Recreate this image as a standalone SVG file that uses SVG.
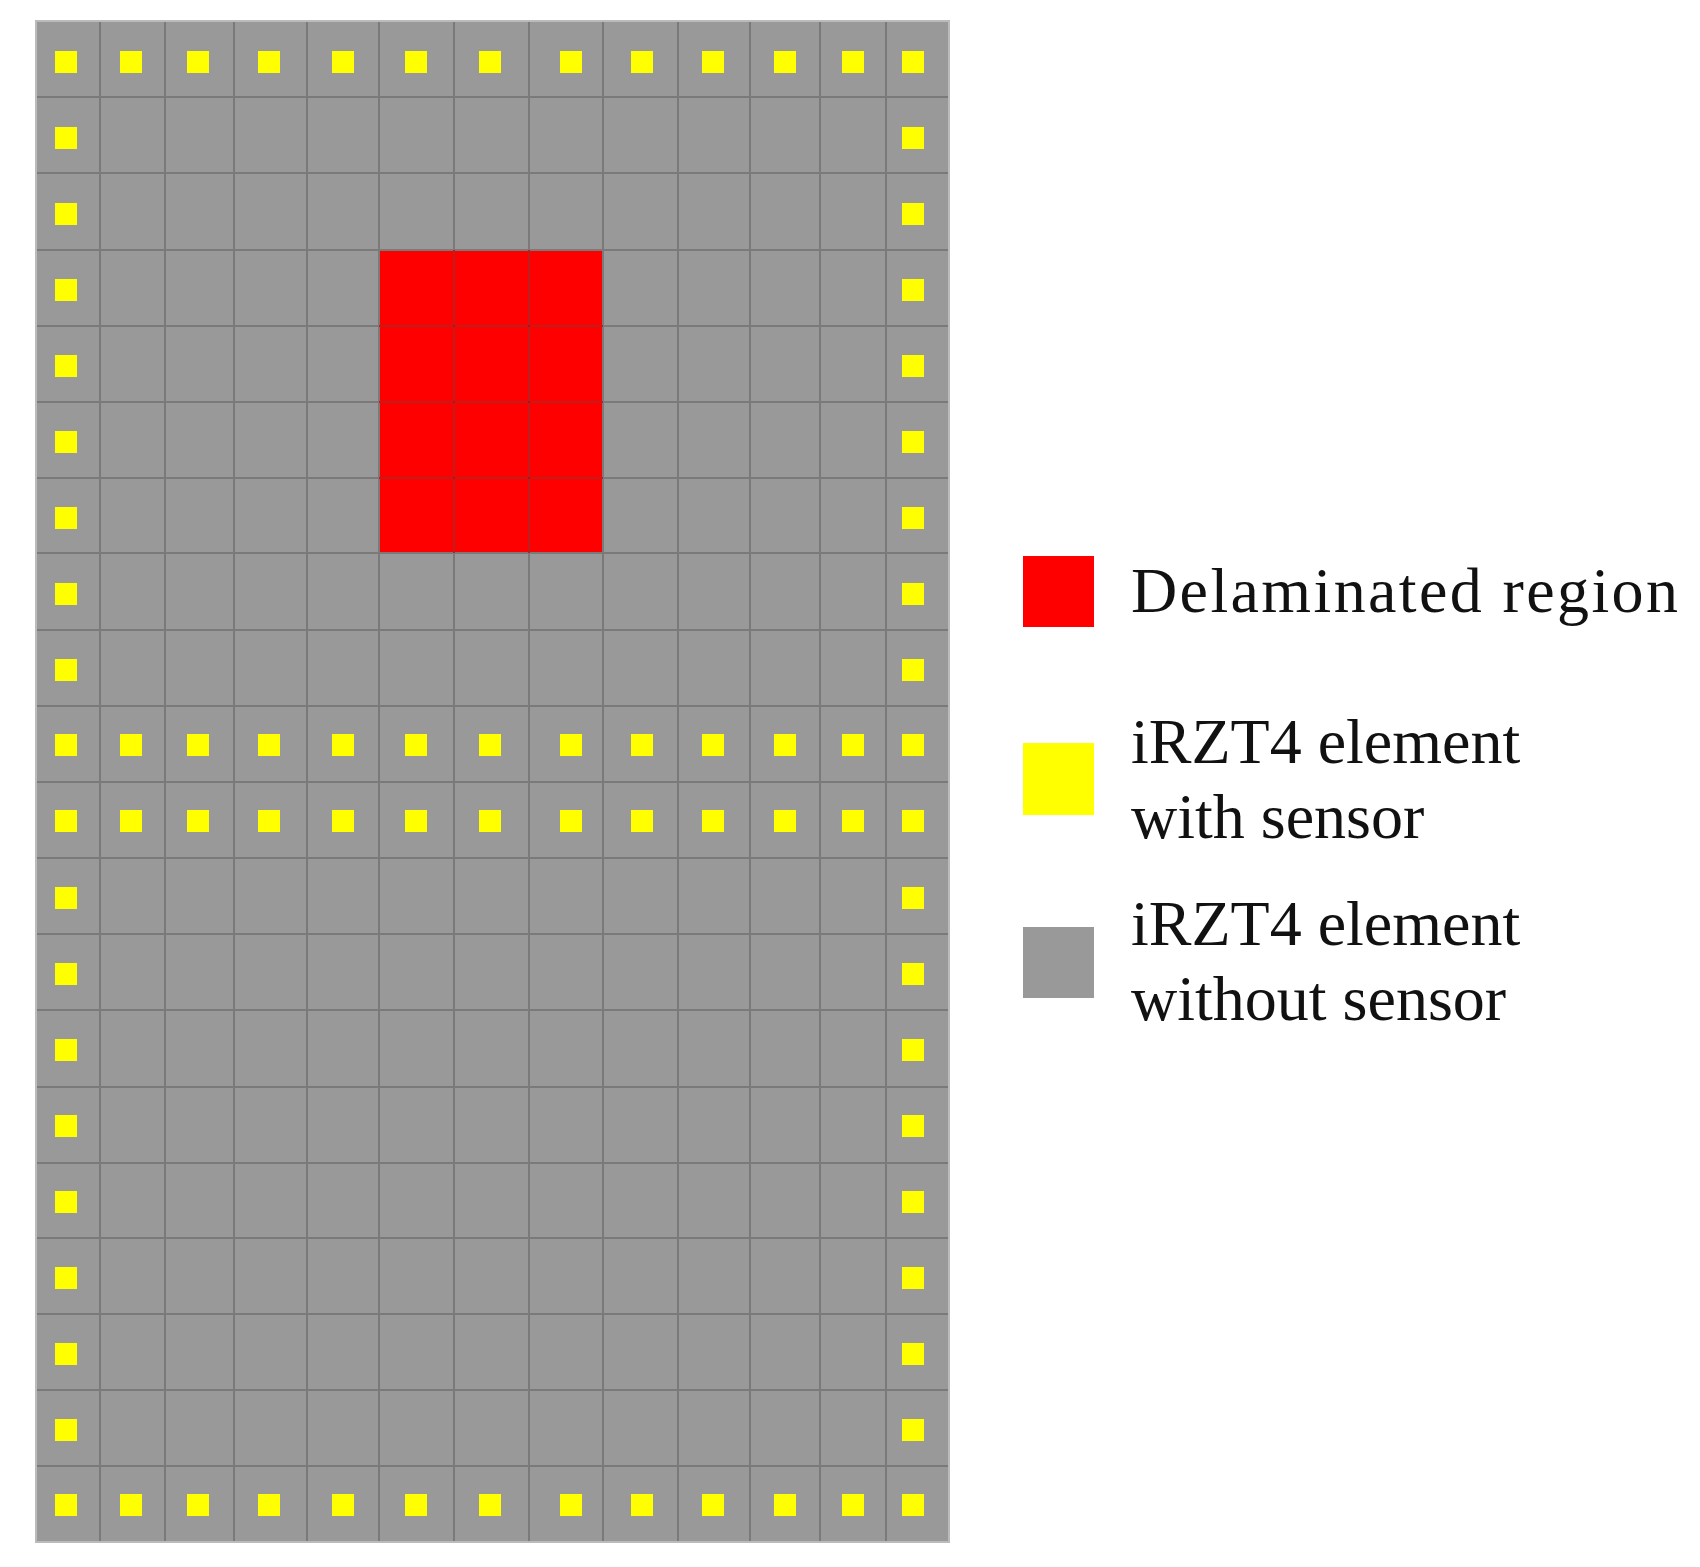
<svg xmlns="http://www.w3.org/2000/svg" width="1700" height="1567" viewBox="0 0 1700 1567">
<style>
.g{stroke:#7a7a7a;stroke-width:2;fill:none}
.y{fill:#ffff00}
.t{font-family:"Liberation Serif",serif;font-size:64px;fill:#111}
</style>
<defs><rect id="s" class="y" width="22" height="22"/></defs>
<rect x="0" y="0" width="1700" height="1567" fill="#fff"/>
<g id="grid">
<rect x="36" y="21" width="913" height="1521" fill="#999"/>
<rect x="379" y="250" width="224" height="303" fill="#ff0000"/>
<path class="g" d="M100 21V1542M165 21V1542M234 21V1542M307 21V1542M379 21V1542M454 21V1542M529 21V1542M603 21V1542M678 21V1542M750 21V1542M820 21V1542M886 21V1542
M36 97H949M36 173H949M36 250H949M36 326H949M36 402H949M36 478H949M36 553H949M36 630H949M36 706H949M36 782H949M36 858H949M36 934H949M36 1010H949M36 1087H949M36 1163H949M36 1238H949M36 1314H949M36 1390H949M36 1466H949"/>
<path d="M379 326H603M379 402H603M379 478H603M454 250V553M529 250V553" stroke="#d40000" stroke-width="1.5"/>
<rect x="36" y="21" width="913" height="1521" fill="none" stroke="#bbb" stroke-width="2"/>
</g>
<g id="sensors">
<g id="rowTop">
<use href="#s" x="55" y="51"/><use href="#s" x="120" y="51"/><use href="#s" x="187" y="51"/><use href="#s" x="258" y="51"/><use href="#s" x="332" y="51"/><use href="#s" x="405" y="51"/><use href="#s" x="479" y="51"/><use href="#s" x="560" y="51"/><use href="#s" x="631" y="51"/><use href="#s" x="702" y="51"/><use href="#s" x="774" y="51"/><use href="#s" x="842" y="51"/><use href="#s" x="902" y="51"/>
</g>
<use href="#rowTop" y="683"/>
<use href="#rowTop" y="759"/>
<use href="#rowTop" y="1443"/>
<g id="side">
<use href="#s" x="55" y="127"/><use href="#s" x="902" y="127"/>
</g>
<use href="#side" y="76"/><use href="#side" y="152"/><use href="#side" y="228"/><use href="#side" y="304"/><use href="#side" y="380"/><use href="#side" y="456"/><use href="#side" y="532"/>
<use href="#side" y="760"/><use href="#side" y="836"/><use href="#side" y="912"/><use href="#side" y="988"/><use href="#side" y="1064"/><use href="#side" y="1140"/><use href="#side" y="1216"/><use href="#side" y="1292"/>
</g>
<g id="legend-red"><rect x="1023" y="556" width="71" height="71" fill="#ff0000"/><text class="t" x="1131" y="612" textLength="547">Delaminated region</text></g>
<g id="legend-yellow"><rect x="1023" y="743" width="71" height="72" fill="#ffff00"/><text class="t" x="1131" y="763">iRZT4 element</text><text class="t" x="1131" y="838">with sensor</text></g>
<g id="legend-gray"><rect x="1023" y="927" width="71" height="71" fill="#999"/><text class="t" x="1131" y="945">iRZT4 element</text><text class="t" x="1131" y="1020">without sensor</text></g>
</svg>
